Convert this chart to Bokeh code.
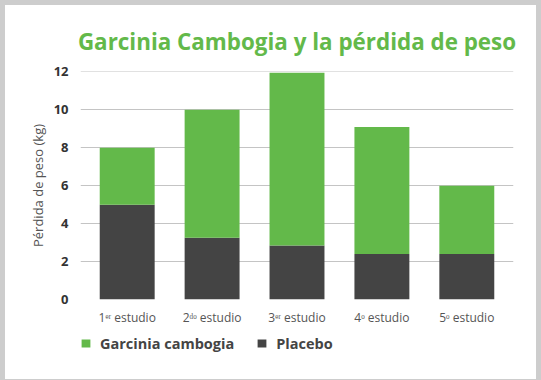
from bokeh.plotting import figure
from bokeh.layouts import column
from bokeh.models import FactorRange, Range1d, Legend, LegendItem, ColumnDataSource, FixedTicker
from bokeh.embed import file_html
from bokeh.resources import INLINE

# data
studies = ["1ᵉʳ estudio", "2ᵈᵒ estudio", "3ᵉʳ estudio", "4ᵒ estudio", "5ᵒ estudio"]
placebo = [5.0, 3.25, 2.85, 2.4, 2.4]
garcinia = [3.0, 6.75, 9.1, 6.7, 3.6]
series = ["placebo", "garcinia"]
series_labels = ["Placebo", "Garcinia cambogia"]
colors = ["#444444", "#63b94a"]
y_ticks = [0, 2, 4, 6, 8, 10, 12]

src = ColumnDataSource(data=dict(study=studies, placebo=placebo, garcinia=garcinia))

p = figure(frame_width=433, frame_height=228, output_backend="svg", toolbar_location=None,
           x_range=FactorRange(*studies, range_padding=0.05, range_padding_units="absolute"),
           y_range=Range1d(0, 12.02),
           title="Garcinia Cambogia y la pérdida de peso")
p.min_border_left = 75
p.min_border_right = 23
p.min_border_top = 66
p.min_border_bottom = 25
p.outline_line_color = None
p.background_fill_color = "white"
p.border_fill_color = "white"

p.title.text_font = "Open Sans"
p.title.text_font_size = "22.4px"
p.title.text_font_style = "bold"
p.title.text_color = "#63b94a"
p.title.align = "center"
p.title.standoff = 29

rs = p.vbar_stack(series, x="study", width=0.647, source=src, color=colors, line_color=None)

p.xgrid.grid_line_color = None
p.ygrid.grid_line_color = "#c4c4c4"
p.ygrid.grid_line_width = 1.2
p.ygrid.ticker = FixedTicker(ticks=y_ticks)

p.yaxis.ticker = FixedTicker(ticks=y_ticks)
p.yaxis.axis_line_color = None
p.yaxis.major_tick_line_color = None
p.yaxis.minor_tick_line_color = None
p.yaxis.major_label_text_font = "Open Sans"
p.yaxis.major_label_text_font_style = "bold"
p.yaxis.major_label_text_font_size = "13px"
p.yaxis.major_label_text_color = "#333333"
p.yaxis.major_label_standoff = 6
p.yaxis.axis_label = "Pérdida de peso (kg)"
p.yaxis.axis_label_text_font = "Open Sans"
p.yaxis.axis_label_text_font_style = "normal"
p.yaxis.axis_label_text_font_size = "13px"
p.yaxis.axis_label_text_color = "#555555"
p.yaxis.axis_label_standoff = 4

p.xaxis.axis_line_color = None
p.xaxis.major_tick_line_color = None
p.xaxis.minor_tick_line_color = None
p.xaxis.major_label_text_font = "Open Sans"
p.xaxis.major_label_text_font_size = "12px"
p.xaxis.major_label_text_color = "#555555"
p.xaxis.major_label_standoff = 3

# legend figure below the chart
lf = figure(width=531, height=51, output_backend="svg", toolbar_location=None,
            x_range=FactorRange(*studies), y_range=Range1d(100, 101))
lf.min_border = 0
lf.axis.visible = False
lf.grid.visible = False
lf.outline_line_color = None
lf.background_fill_color = "white"
lf.border_fill_color = "white"
lrs = lf.vbar_stack(series, x="study", width=0.647, source=src, color=colors, line_color=None)

legend = Legend(items=[LegendItem(label=series_labels[1], renderers=[lrs[1]]),
                       LegendItem(label=series_labels[0], renderers=[lrs[0]])],
                orientation="horizontal", location=(0, 26))
legend.glyph_width = 11
legend.glyph_height = 10
legend.label_height = 20
legend.label_text_font = "Open Sans"
legend.label_text_font_style = "bold"
legend.label_text_font_size = "14.5px"
legend.label_text_color = "#444444"
legend.spacing = 22
legend.label_standoff = 9
legend.border_line_color = None
legend.background_fill_alpha = 0
legend.padding = 0
legend.margin = 0
lf.add_layout(legend)

layout = column(p, lf, spacing=0, styles={"background-color": "white"})

html = file_html(layout, INLINE)
html = html.replace("</head>", "<style>html,body{background:#cdcdcd !important;margin:0 !important;}body{padding:5px !important;}</style></head>", 1)
open("out.html", "w").write(html)
